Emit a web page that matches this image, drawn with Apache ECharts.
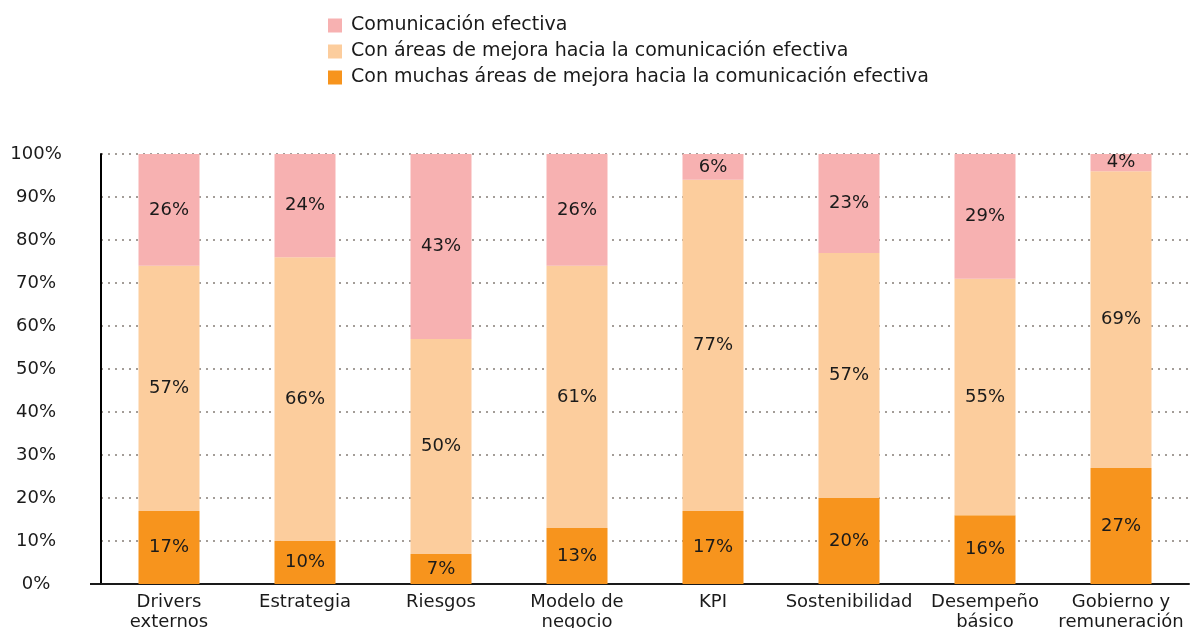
<!DOCTYPE html>
<html>
<head>
<meta charset="utf-8">
<style>html,body{margin:0;padding:0;background:#fff;}#c{width:1192px;height:628px;}</style>
<script src="https://cdn.jsdelivr.net/npm/echarts@6/dist/echarts.min.js"></script>
</head>
<body>
<div id="c"></div>
<script>
const categories = ['Drivers\nexternos','Estrategia','Riesgos','Modelo de\nnegocio','KPI','Sostenibilidad','Desempeño\nbásico','Gobierno y\nremuneración'];
const seriesNames = ['Comunicación efectiva','Con áreas de mejora hacia la comunicación efectiva','Con muchas áreas de mejora hacia la comunicación efectiva'];
const muchas = [17,10,7,13,17,20,16,27];
const areas = [57,66,50,61,77,57,55,69];
const efectiva = [26,24,43,26,6,23,29,4];
const yTicks = [0,10,20,30,40,50,60,70,80,90,100];

const FONT = '"DejaVu Sans", "Liberation Sans", Arial, sans-serif';
const chart = echarts.init(document.getElementById('c'), null, {renderer:'canvas'});
const lbl = {show:true, position:'inside', formatter: p => p.value + '%', color:'#1a1a1a', fontSize:18, fontFamily:FONT};
chart.setOption({
  animation:false,
  legend:{
    orient:'vertical', left:328, top:16, padding:0, itemWidth:14, itemHeight:14, itemGap:7,
    data:[seriesNames[0],seriesNames[1],seriesNames[2]],
    textStyle:{fontSize:19, lineHeight:19, color:'#1a1a1a', fontFamily:FONT, padding:[0,0,0,4]},
    icon:'rect'
  },
  grid:{left:101, right:3, top:154, bottom:44, containLabel:false, outerBoundsMode:'none'},
  xAxis:{
    type:'category', data:categories,
    axisLine:{show:true, lineStyle:{color:'#1a1a1a', width:2}},
    axisTick:{show:false},
    axisLabel:{fontSize:18, color:'#1a1a1a', fontFamily:FONT, lineHeight:20, margin:8, interval:0}
  },
  yAxis:{
    type:'value', min:yTicks[0], max:yTicks[yTicks.length-1], interval:10,
    axisLine:{show:true, lineStyle:{color:'#000', width:2}},
    axisTick:{show:false},
    axisLabel:{formatter:'{value}%', fontSize:18, color:'#1a1a1a', fontFamily:FONT, align:'center', margin:65},
    splitLine:{show:true, lineStyle:{color:'#a39d98', width:2, type:[2,5]}}
  },
  graphic:[{type:'line', shape:{x1:90, y1:584, x2:102, y2:584}, style:{stroke:'#1a1a1a', lineWidth:2}}],
  series:[
    {name:seriesNames[2], type:'bar', stack:'s', data:muchas, barWidth:61, itemStyle:{color:'#f7941d'}, label:lbl},
    {name:seriesNames[1], type:'bar', stack:'s', data:areas, barWidth:61, itemStyle:{color:'#fccd9d'}, label:lbl},
    {name:seriesNames[0], type:'bar', stack:'s', data:efectiva, barWidth:61, itemStyle:{color:'#f7b1b1'}, label:lbl}
  ]
});
</script>
</body>
</html>
